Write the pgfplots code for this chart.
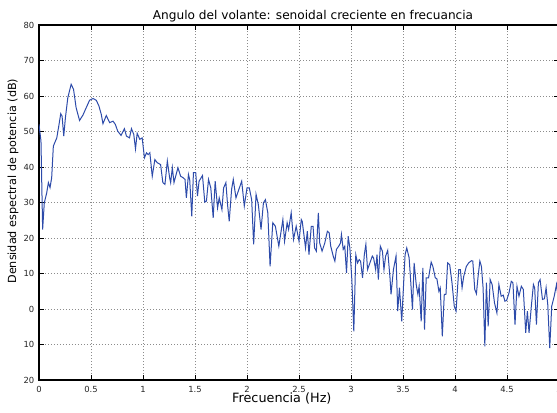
\documentclass[border=0pt]{standalone}
\usepackage{pgfplots}
\pgfplotsset{compat=1.18}
\usepackage{fontspec}
\setmainfont{DejaVu Sans}
\definecolor{linecol}{RGB}{45,75,170}
\begin{document}
\begin{tikzpicture}[x=0.75pt,y=0.75pt]
\begin{axis}[
  scale only axis,
  width=390pt, height=266.25pt,
  at={(0,0)}, anchor=south west,
  xmin=0, xmax=5, ymin=-20, ymax=80,
  xtick={0,0.5,1,1.5,2,2.5,3,3.5,4,4.5,5},
  xticklabels={0,0.5,1,1.5,2,2.5,3,3.5,4,4.5,5},
  ytick={-20,-10,0,10,20,30,40,50,60,70,80},
  yticklabels={20,10,0,10,20,30,40,50,60,70,80},
  tick align=inside,
  major tick length=3.5pt,
  tick style={black, line width=0.6pt},
  axis line style={black, line width=0.8pt},
  grid=major,
  grid style={dash pattern=on 0.75pt off 1.5pt, black!45, line width=0.5pt},
  tick label style={font=\fontsize{6.3}{7}\selectfont, text=black!85},
  /pgf/number format/assume math mode=true,
  xticklabel style={yshift=-1pt},
  title={Angulo del volante: senoidal creciente en frecuancia},
  title style={font=\fontsize{9.1}{11}\selectfont, at={(axis description cs:0.527,1.017)}, anchor=base, yshift=-6.5pt},
  xlabel={Frecuencia (Hz)},
  ylabel={Densidad espectral de potencia (dB)},
  xlabel style={font=\fontsize{9.6}{11}\selectfont, at={(axis description cs:0.467,-0.062)}, anchor=base},
  ylabel style={font=\fontsize{8.4}{10}\selectfont, at={(axis description cs:-0.05,0.56)}, anchor=center},
  clip=true,
]
\addplot[linecol, line width=0.75pt, mark=none] table {
x y
0.000 52
0.019 47.3
0.035 22.4
0.051 29.9
0.074 32.7
0.090 35.6
0.106 34.2
0.122 37
0.138 45.9
0.171 48.2
0.190 51.5
0.209 55
0.222 54.3
0.238 48.7
0.254 53.9
0.277 59.5
0.309 63.3
0.332 61.9
0.357 56.7
0.390 53.1
0.422 54.6
0.454 56.7
0.486 58.8
0.519 59.3
0.551 58.8
0.576 57.2
0.599 54.8
0.615 52.2
0.647 54.5
0.679 52.5
0.712 52.9
0.734 52
0.757 50.1
0.789 48.9
0.821 50.8
0.841 48.7
0.870 48.2
0.889 50.8
0.911 49.2
0.928 45.1
0.944 49.5
0.969 47.8
0.992 48.2
1.014 42.6
1.034 44
1.050 43.5
1.066 44
1.089 37.4
1.114 42.1
1.137 41.2
1.169 40.7
1.191 35.6
1.211 35.1
1.234 41.7
1.256 37
1.266 35.6
1.282 39.8
1.298 35.6
1.314 37.4
1.336 39.8
1.362 37.4
1.385 37
1.404 36.5
1.417 31.3
1.437 37.9
1.449 36.5
1.469 26.1
1.485 38.4
1.507 38.4
1.524 31.8
1.539 36
1.572 37.6
1.594 30.1
1.610 30.4
1.630 36.5
1.652 34.1
1.675 25.7
1.694 36
1.717 28.5
1.733 31.3
1.759 28
1.775 34.1
1.797 35.6
1.813 29.4
1.829 24.7
1.852 33.7
1.868 36.5
1.894 31.3
1.916 33.2
1.949 36.0
1.974 29.0
2.000 34.1
2.022 34.1
2.045 30.8
2.064 18.2
2.087 32.3
2.109 29.4
2.135 22.4
2.158 29.9
2.177 30.8
2.200 27.1
2.222 12.0
2.248 24.3
2.273 23.3
2.306 17.7
2.345 25.2
2.361 19.1
2.386 24.3
2.400 22.4
2.425 27.1
2.447 19.6
2.473 23.3
2.500 19.1
2.522 25.2
2.531 24.7
2.563 17.2
2.580 21.9
2.596 15.3
2.618 23.3
2.635 23.3
2.650 17.2
2.667 16.3
2.686 27.1
2.699 18.6
2.722 16.3
2.748 18.6
2.773 21.9
2.790 21.5
2.805 17.7
2.829 14.9
2.845 13.5
2.860 16.8
2.882 17.7
2.899 18.6
2.908 21
2.925 16.8
2.940 17.7
2.957 10.2
2.973 20.5
2.989 17.2
3.008 8.3
3.027 -6.3
3.046 15.3
3.063 13
3.079 13.9
3.092 13.5
3.111 8.8
3.128 15.3
3.143 18.2
3.159 11.1
3.182 13
3.205 14.9
3.217 14.4
3.237 11.1
3.250 15.3
3.263 8.3
3.282 17.7
3.302 16.3
3.317 11.1
3.333 14.9
3.353 16.5
3.375 8.8
3.385 4.1
3.408 11.1
3.433 14.9
3.449 -0.6
3.466 6
3.488 -3.5
3.504 6
3.520 15.3
3.536 17.2
3.559 14.4
3.575 7.4
3.591 -0.2
3.607 13
3.627 6.9
3.643 4.1
3.655 6.4
3.675 -3.5
3.691 11.6
3.707 -5.8
3.723 8.8
3.746 8.8
3.771 13.2
3.787 12
3.810 8.8
3.826 8.5
3.845 5
3.858 6
3.878 -7.7
3.897 4.1
3.913 4.1
3.929 13
3.949 12.5
3.971 7.4
3.993 0.8
4.010 -0.6
4.036 11.1
4.052 11.1
4.068 6
4.084 9.2
4.109 12
4.132 13
4.158 13.6
4.171 13.5
4.190 5.5
4.206 4.3
4.222 9.2
4.239 13.5
4.254 12
4.270 6
4.287 -10.5
4.302 7.4
4.319 -4.9
4.338 8.3
4.357 6.9
4.380 1.7
4.403 -1.1
4.422 6.9
4.444 3.6
4.464 3.9
4.480 2.2
4.496 2.4
4.519 4.5
4.541 7.8
4.557 7.4
4.577 -4.4
4.596 6.4
4.615 3.6
4.638 6.4
4.657 5.5
4.680 -6.7
4.696 -0.6
4.712 -6.7
4.734 0.8
4.754 6.9
4.766 6
4.783 -4.4
4.802 7.4
4.818 8.3
4.841 2.7
4.860 2.9
4.876 6
4.892 1.2
4.911 -11
4.930 0.8
4.954 3.6
4.976 6.9
4.995 2.2
5.000 -2.4
};
\end{axis}
\pgfresetboundingbox
\useasboundingbox (-29.25pt,-24pt) rectangle (388.5pt,285pt);
\end{tikzpicture}
\end{document}
